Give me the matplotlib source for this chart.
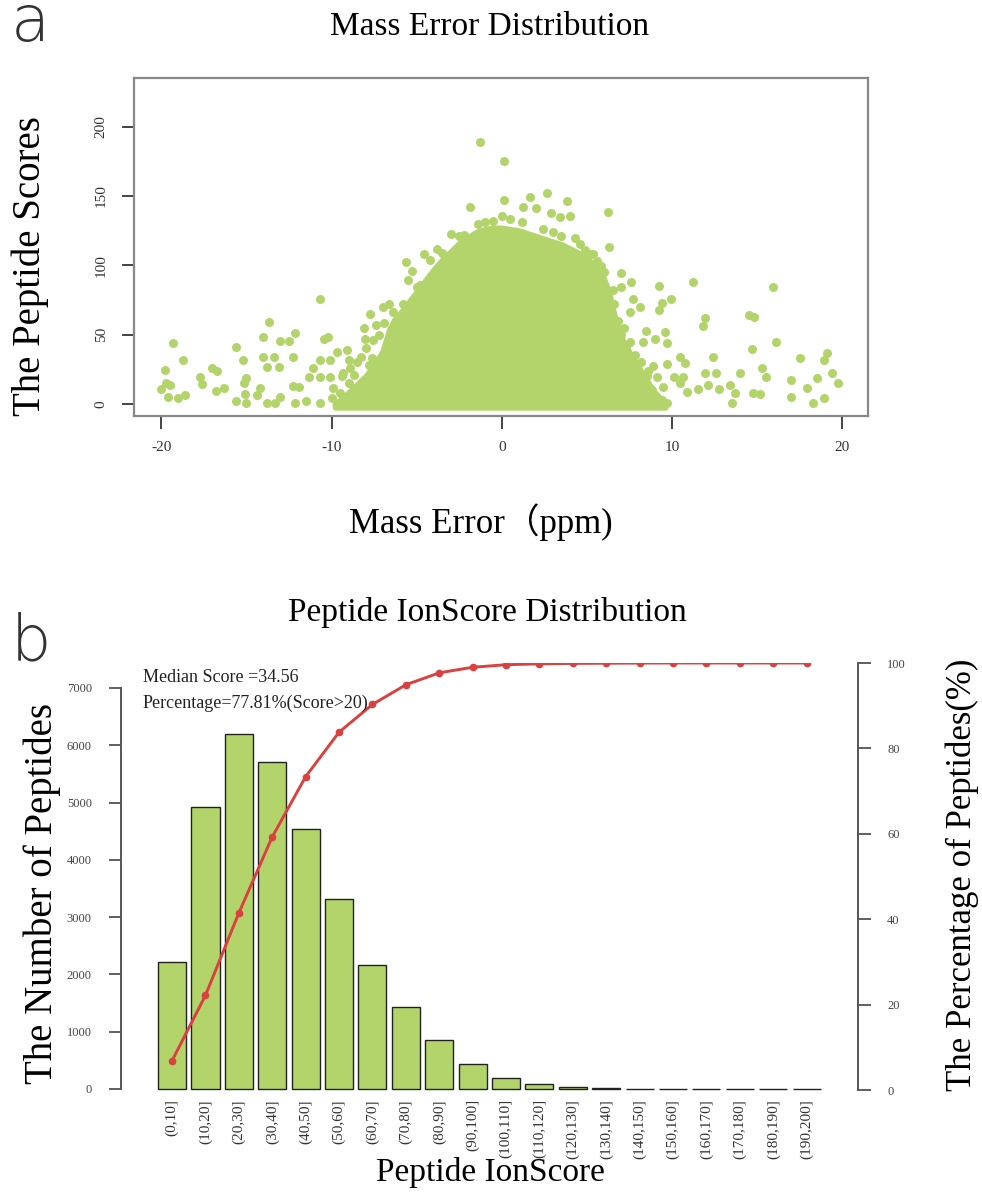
import matplotlib
matplotlib.use("Agg")
import matplotlib.pyplot as plt
import numpy as np

# ---- panel a: mass error vs peptide score ----
# dense core of the cloud, read as an outline (mass error, upper score)
core_err = [-9.8, -9.2, -8.6, -8.0, -7.5, -7.0, -6.6, -6.3, -6.0, -5.5, -5.0, -4.5, -4.0,
            -3.5, -3.0, -2.5, -2.0, -1.5, -1.0, -0.5, 0.0, 0.5, 1.0, 1.5, 2.0, 2.5,
            3.0, 3.5, 4.0, 4.5, 5.0, 5.5, 6.0, 6.3, 6.6, 7.0, 7.5, 8.0, 8.5, 9.0, 9.6]
core_top = [0, 6, 13, 20, 28, 38, 54, 61, 65, 73, 81, 89, 97,
            104, 110, 116, 120, 124, 126, 127, 127, 126, 125, 123, 121, 119,
            117, 115, 112, 109, 105, 99, 90, 80, 64, 48, 37, 27, 17, 8, 0]

# scattered points outside the core (mass error ppm, score)
err_pts = [-19.3, -18.75, -19.8, -19.7, -20.0, -19.5, -19.6, -19.0, -18.6, -17.7, -17.6,
           -17.0, -16.75, -16.8, -16.3, -15.6, -15.2, -15.6, -15.0, -15.15, -15.0, -15.1,
           -14.4, -14.2, -13.7, -14.0, -14.0, -13.4, -13.8, -13.0, -13.1, -12.5, -12.15,
           -12.25, -13.8, -13.3, -13.0, -12.15, -12.25, -11.9, -11.5, -11.3, -11.1, -10.7,
           -10.45, -10.2, -10.65, -10.1, -10.7, -10.1, -10.7, -9.9, -9.7, -9.1, -9.0, -9.3,
           -8.7, -8.3, -7.75, -8.1, -8.05, -7.55, -7.4, -7.0, -6.6, -5.6, -5.3, -5.5, -4.6,
           -4.8, -3.0, -3.5, -2.2, -1.85, -1.3, -1.4,
           0.14, 0.14, -0.02, 1.64, 2.66, 1.25, 2.0, 2.9, 3.8, 4.0, 3.4, 6.24, 6.3, 4.3,
           4.9, 5.36, 5.85, 6.97, 7.6, 6.5, 7.0, 7.7, 8.1, 7.5, 9.2, 11.2, 9.96, 9.4, 9.2,
           15.9, 14.5, 14.8, 11.9, 11.8, 8.46, 9.6, 9.0, 9.7, 8.3, 16.1, 14.66, 10.45,
           10.75, 12.4, 8.9, 9.67, 11.9, 12.6, 14.0, 15.3, 15.5, 17.5, 19.1, 18.9, 19.4,
           19.75, 17.0, 18.5, 17.9, 16.95, 18.25, 18.9, 14.76, 15.15, 13.4, 13.7, 13.5,
           11.5, 12.1, 12.76, 10.65, 10.45, 10.85, 10.1, 9.67, 9.47, 9.1, 8.7, 7.9,
           # fringe of the core
           6.8, 7.2, 7.0, 7.5, 7.3, 7.8, 8.2, 8.0, 8.5, 8.3, 8.8, 9.0, 9.4, 8.6,
           -8.0, -8.5, -7.8, -9.0, -9.5, -8.8, -7.2, -6.9, -9.4, -10.0, -8.9, -7.6,
           -0.5, 0.5, 1.2, -2.5, -3.8, 3.5, 2.4, 5.2, 5.6, -5.0, -5.8, -6.4, -1.0,
           3.0, 4.6, -4.2, 6.0, 6.6]
score_pts = [44, 32, 24.5, 15, 10.6, 14, 5, 4.5, 6.6, 19.7, 14.4,
             25.7, 24, 9.4, 11.3, 41, 32, 2.4, 0.5, 15, 18.5, 7,
             6.5, 11.3, 59, 48.6, 33.7, 34, 26.5, 45.7, 26.5, 45.7, 51.5,
             33.7, 0.5, 0.5, 5.3, 0.5, 13, 12.5, 2.4, 19.7, 25.7, 75.5,
             46.7, 48.6, 31.7, 31.7, 19.7, 19.7, 0.5, 11.3, 37.7, 39, 31.7, 22,
             21, 34, 65, 54.6, 46.7, 46, 57, 70, 72, 102, 95.5, 89.5, 108,
             86, 122.7, 108.7, 122, 142, 189, 130,
             175.5, 146.7, 135.6, 149, 152, 142, 141, 138, 146, 135.6, 135, 138.3, 113.5, 119.5,
             111, 108, 99.6, 94.3, 88, 82, 84.6, 76, 70, 66.6, 85, 88, 75.5, 72.6, 67.8,
             84.6, 64, 63, 61.8, 56, 52.9, 52, 46.7, 43.8, 45, 45, 39.4, 33.7,
             29.4, 33.7, 27, 28.9, 22, 22, 22, 25.7, 19.7, 33, 36.6, 31.7, 22,
             15, 17.3, 18.5, 11.3, 5.3, 0.5, 4, 7.7, 7.2, 13.7, 7.7, 1,
             10.6, 13.7, 10.6, 19.7, 15, 8.9, 19.7, 0.5, 12.5, 19.7, 7.7, 5.3,
             60, 55, 50, 45, 40, 35, 30, 25, 20, 15, 10, 5, 3, 24,
             40, 30, 28, 15, 8, 5, 50, 58, 20, 4, 26, 33,
             132, 133, 131, 121, 112, 121, 126, 108, 103, 84, 72, 66, 131,
             124, 115, 104, 95, 72]

# ---- panel b: ion score histogram ----
bins = ["(0,10]", "(10,20]", "(20,30]", "(30,40]", "(40,50]", "(50,60]", "(60,70]",
        "(70,80]", "(80,90]", "(90,100]", "(100,110]", "(110,120]", "(120,130]",
        "(130,140]", "(140,150]", "(150,160]", "(160,170]", "(170,180]", "(180,190]",
        "(190,200]"]
counts = [2220, 4920, 6200, 5710, 4530, 3320, 2160, 1430, 860, 430,
          190, 90, 30, 12, 8, 2, 1, 1, 0, 0]
cum_pct = [6.9, 22.2, 41.5, 59.3, 73.4, 83.8, 90.3, 94.9, 97.7, 99.0,
           99.6, 99.8, 99.9, 99.95, 99.98, 100, 100, 100, 100, 100]

GREEN = "#b3d46b"
RED = "#d9403f"
AXC = "#555555"
SERIF = ["Liberation Serif", "DejaVu Serif"]
plt.rcParams["font.family"] = SERIF

fig = plt.figure(figsize=(9.82, 11.96), dpi=100)
W, H = 982, 1196


def box(l, t, r, b):
    return [l / W, 1 - b / H, (r - l) / W, (b - t) / H]


# panel a
ax = fig.add_axes(box(134, 78, 868, 416))
ax.fill_between(core_err, -2.5, core_top, color=GREEN, lw=4, edgecolor=GREEN,
                joinstyle="round")
ax.scatter(err_pts, score_pts, s=42, color=GREEN, linewidths=0, zorder=3)
ax.set_xlim(-21.6, 21.5)
ax.set_ylim(-8.7, 235)
ax.set_xticks([-20, -10, 0, 10, 20])
ax.set_yticks([0, 50, 100, 150, 200])
ax.set_xticklabels(["-20", "-10", "0", "10", "20"])
ax.set_yticklabels(["0", "50", "100", "150", "200"], rotation=90, va="center")
for s in ax.spines.values():
    s.set_color("#888888")
    s.set_linewidth(1.6)
ax.tick_params(direction="out", length=9, width=1.4, color="#444444",
               labelcolor="#333333", labelsize=11)
ax.tick_params(axis="x", pad=9)
ax.tick_params(axis="y", pad=10)

fig.text(490 / W, 1 - 27 / H, "Mass Error Distribution", ha="center", va="center",
         fontsize=24)
fig.text(30 / W, 1 - 266 / H, "The Peptide Scores", rotation=90, ha="center",
         va="center", fontsize=28)
fig.text(481 / W, 1 - 522 / H, "Mass Error（ppm)", ha="center", va="center",
         fontsize=25, family=["Liberation Serif", "Noto Sans CJK SC"])

# panel b
bx = fig.add_axes(box(121, 663, 858, 1091))
x = np.arange(len(bins))
bx.bar(x, counts, width=0.84, color=GREEN, edgecolor="#222222", linewidth=1.0)
bx.set_xlim(-1.53, 20.54)
bx.set_ylim(-35, 7435)
bx.set_yticks(range(0, 7001, 1000))
bx.set_xticks(x)
bx.set_xticklabels(bins, rotation=90, fontsize=11, color="#333333")
bx.tick_params(axis="x", length=0, pad=6)
bx.tick_params(axis="y", direction="out", length=9, width=1.2, color="#444444",
               labelcolor="#444444", labelsize=9, pad=12)
for k in ["top", "right", "bottom"]:
    bx.spines[k].set_visible(False)
bx.spines["left"].set_bounds(0, 7000)
bx.spines["left"].set_color(AXC)
bx.spines["left"].set_linewidth(1.4)

rx = bx.twinx()
rx.plot(x, cum_pct, color=RED, lw=2.1, marker="o", ms=4.5, zorder=5)
rx.set_ylim(-0.2, 99.8)
rx.set_yticks(range(0, 101, 20))
rx.tick_params(axis="y", direction="out", length=9, width=1.2, color="#444444",
               labelcolor="#444444", labelsize=9, pad=12)
for k in ["top", "left", "bottom"]:
    rx.spines[k].set_visible(False)
rx.spines["right"].set_bounds(0, 100)
rx.spines["right"].set_color(AXC)
rx.spines["right"].set_linewidth(1.4)

fig.text(487 / W, 1 - 612 / H, "Peptide IonScore Distribution", ha="center",
         va="center", fontsize=24)
fig.text(143 / W, 1 - 677 / H, "Median Score =34.56", ha="left", va="center",
         fontsize=13, color="#222222")
fig.text(143 / W, 1 - 703 / H, "Percentage=77.81%(Score>20)", ha="left", va="center",
         fontsize=13, color="#222222")
fig.text(42 / W, 1 - 893 / H, "The Number of Peptides", rotation=90, ha="center",
         va="center", fontsize=28)
fig.text(962 / W, 1 - 875 / H, "The Percentage of Peptides(%)", rotation=90,
         ha="center", va="center", fontsize=25)
fig.text(490 / W, 1 - 1172 / H, "Peptide IonScore", ha="center", va="center",
         fontsize=24)

# panel letters, thin sans
for lab, yy in [("a", 41), ("b", 660)]:
    fig.text(11 / W, 1 - yy / H, lab, ha="left", va="baseline", fontsize=46,
             family=["DejaVu Sans"], fontweight=200, color="#333333")

fig.savefig("out.png", dpi=100)
